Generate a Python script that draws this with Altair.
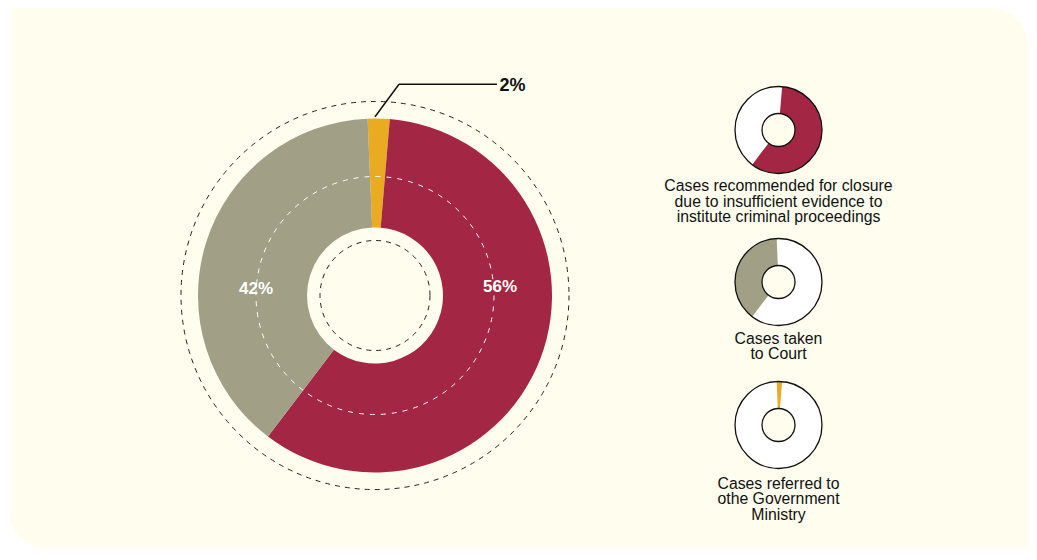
import math
import altair as alt
import pandas as pd

# ---- data ----
keys = ["referred", "closure", "court"]
shares = [2, 59, 39]                     # drawn proportions of the ring
slice_labels = ["2%", "56%", "42%"]      # printed labels
colors = ["#E9AB22", "#A32645", "#A19F86"]
legend_keys = ["closure", "court", "referred"]
legend_texts = [
    "Cases recommended for closure\ndue to insufficient evidence to\ninstitute criminal proceedings",
    "Cases taken\nto Court",
    "Cases referred to\nothe Government\nMinistry",
]

# ---- layout / style ----
W, H = 1021, 540
CREAM = "#FFFDEE"
CX, CY = 367, 287.5
R_OUT, R_IN = 177, 68
LX = 770.5
LEG_Y = [122, 274, 417]
LEG_TEXT_Y = [183, 335.5, 480.5]
TAU = math.tau
start = math.radians(-2.4)
FONT = "Liberation Sans"

theta_scale = alt.Scale(domain=[0, sum(shares)], range=[start, start + TAU])
color_scale = alt.Scale(domain=keys, range=colors)

df = pd.DataFrame({"key": keys, "share": shares, "order": [0, 1, 2], "label": slice_labels})
one = pd.DataFrame({"k": [0]})

layers = []

# background panel
layers.append(
    alt.Chart(one).mark_rect(fill=CREAM, cornerRadiusTopRight=40, cornerRadiusBottomLeft=36)
    .encode(x=alt.value(2), x2=alt.value(W), y=alt.value(0), y2=alt.value(H))
)


def ring(cx, cy, r, color, dash, width=1.0):
    return (
        alt.Chart(one)
        .mark_point(shape="circle", size=(2 * r) ** 2, filled=False, stroke=color,
                    strokeWidth=width, strokeDash=dash, opacity=1)
        .encode(x=alt.value(cx), y=alt.value(cy))
    )


# outer dashed circle
layers.append(ring(CX, CY, 194, "#222222", [5, 5]))

# main donut
layers.append(
    alt.Chart(df).mark_arc(radius=R_OUT, radius2=R_IN)
    .encode(
        theta=alt.Theta("share:Q", stack=True, scale=theta_scale),
        order=alt.Order("order:Q"),
        color=alt.Color("key:N", scale=color_scale, legend=None),
        x=alt.value(CX), y=alt.value(CY),
    )
)

# white dashed circle and inner black dashed circle
layers.append(ring(CX, CY, 119, "white", [5, 6], 1.0))
layers.append(ring(CX, CY, 55, "#222222", [5, 5], 1.0))

# slice labels
label_pos = {"court": (248, 281), "closure": (492, 279)}
for k, (lx, ly) in label_pos.items():
    layers.append(
        alt.Chart(df).transform_filter(alt.datum.key == k)
        .mark_text(font=FONT, fontSize=17, fontWeight="bold", color="white",
                   align="center", baseline="middle")
        .encode(text="label:N", x=alt.value(lx), y=alt.value(ly))
    )
layers.append(
    alt.Chart(df).transform_filter(alt.datum.key == "referred")
    .mark_text(font=FONT, fontSize=18, fontWeight="bold", color="#111111",
               align="center", baseline="middle")
    .encode(text="label:N", x=alt.value(504.5), y=alt.value(78))
)

# leader line for 2%
layers.append(
    alt.Chart(one).mark_rule(stroke="#111111", strokeWidth=1.5)
    .encode(x=alt.value(367), y=alt.value(108.7), x2=alt.value(391), y2=alt.value(76.3))
)
layers.append(
    alt.Chart(one).mark_rule(stroke="#111111", strokeWidth=1.5)
    .encode(x=alt.value(391), y=alt.value(76.3), x2=alt.value(489), y2=alt.value(76.3))
)

# legend donuts
for i, k in enumerate(legend_keys):
    cy = LEG_Y[i]
    layers.append(
        alt.Chart(one).mark_arc(theta=0, theta2=TAU, radius=43.5, radius2=16.5, fill="white")
        .encode(x=alt.value(LX), y=alt.value(cy))
    )
    layers.append(
        alt.Chart(df)
        .transform_stack(stack="share", groupby=[], as_=["s0", "s1"], sort=[alt.SortField("order")])
        .transform_filter(alt.datum.key == k)
        .mark_arc(radius=43.5, radius2=16.5)
        .encode(
            theta=alt.Theta("s0:Q", scale=theta_scale),
            theta2="s1:Q",
            color=alt.Color("key:N", scale=color_scale, legend=None),
            x=alt.value(LX), y=alt.value(cy),
        )
    )
    layers.append(
        alt.Chart(one).mark_arc(theta=0, theta2=TAU, radius=43.5, radius2=16.5, filled=False,
                                stroke="#111111", strokeWidth=1.3)
        .encode(x=alt.value(LX), y=alt.value(cy))
    )
    txt = pd.DataFrame({"t": [legend_texts[i]]})
    layers.append(
        alt.Chart(txt).mark_text(font=FONT, fontSize=15.8, color="#111111", align="center",
                                 baseline="alphabetic", lineBreak="\n", lineHeight=15.5)
        .encode(text="t:N", x=alt.value(LX), y=alt.value(LEG_TEXT_Y[i]))
    )

chart = (
    alt.layer(*layers)
    .properties(width=W, height=H, autosize=alt.AutoSizeParams(type="none"), padding=0,
                background="white")
    .configure_view(stroke="transparent")
)

chart.save("out.html", embed_options={"renderer": "svg", "actions": False})
